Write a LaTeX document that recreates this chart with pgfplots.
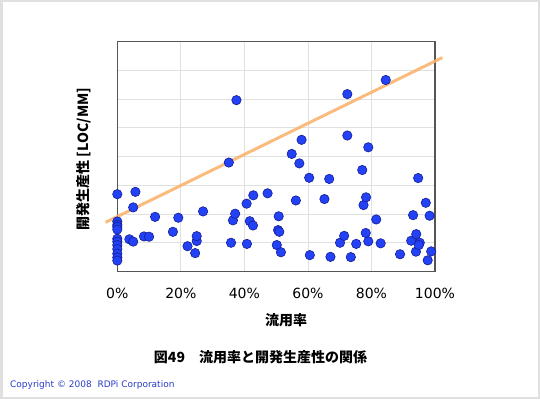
\documentclass[border=0pt]{standalone}
\usepackage{pgfplots}
\pgfplotsset{compat=1.18}
\usepackage{fontspec}
\setmainfont{DejaVu Sans}
\newfontfamily\jp{Noto Sans CJK JP}
\definecolor{ptfill}{RGB}{35,65,245}
\definecolor{ptdraw}{RGB}{20,30,150}
\definecolor{trend}{RGB}{250,180,112}
\definecolor{gridc}{RGB}{224,224,224}
\definecolor{frame}{RGB}{85,85,85}
\definecolor{copy}{RGB}{40,60,200}
\begin{document}
\begin{tikzpicture}[x=1pt,y=1pt]
\useasboundingbox (0,0) rectangle (540,399);
\draw[black!12, line width=2.5pt] (1.25,1.25) rectangle (538.75,397.75);
\begin{axis}[
  at={(117.3pt,127.5pt)}, anchor=south west,
  scale only axis, width=317.7pt, height=230pt,
  xmin=0, xmax=100, ymin=0, ymax=8,
  xtick={0,20,40,60,80,100},
  xticklabels={0\%,20\%,40\%,60\%,80\%,100\%},
  ytick={0,1,...,8}, yticklabels={},
  major tick length=0pt,
  grid=major,
  major grid style={gridc, line width=0.8pt},
  axis line style={frame, line width=1.3pt},
  clip=false,
  xticklabel style={font=\fontsize{14}{16}\selectfont, anchor=center, yshift=-22pt},
  xlabel={\jp\bfseries 流用率},
  xlabel style={at={(axis description cs:0.531,0)}, anchor=center, yshift=-48.5pt, font=\fontsize{14}{16}\selectfont},
  ylabel={\jp\bfseries 開発生産性 [LOC/MM]},
  ylabel style={at={(axis description cs:-0.107,0.489)}, anchor=center, font=\fontsize{14}{16}\selectfont},
]
\addplot[trend, line width=3pt, opacity=0.9] coordinates {(-3.7,1.71) (102.3,7.44)};
\addplot[only marks, mark=*, mark size=4.7pt, mark options={fill=ptfill, draw=ptdraw, line width=0.6pt}] table {
x y
0 2.69
0 1.74
0 1.62
0 1.55
0 1.46
0 1.14
0 1.04
0 0.92
0 0.78
0 0.62
0 0.49
0 0.38
5.7 2.77
5.0 2.23
3.8 1.12
5.0 1.04
8.4 1.22
10.0 1.21
11.9 1.90
17.5 1.38
19.2 1.87
22.1 0.88
24.5 0.64
25.0 1.06
25.0 1.23
27.0 2.09
35.1 3.79
37.5 5.96
35.8 1.00
36.4 1.78
37.1 2.01
40.7 2.36
40.8 0.96
41.7 1.75
42.7 1.60
42.8 2.65
47.3 2.72
50.2 0.92
50.6 1.44
51.0 1.38
50.8 1.92
51.5 0.67
54.9 4.09
57.3 3.76
58.0 4.58
56.2 2.47
60.4 3.26
60.6 0.57
65.2 2.52
66.7 3.22
67.1 0.51
70.1 1.00
71.4 1.24
72.4 6.17
72.4 4.73
73.5 0.50
75.2 0.96
77.1 3.53
77.5 2.31
78.3 2.58
79.0 4.32
78.2 1.34
79.0 1.05
81.5 1.81
82.9 0.98
84.5 6.66
89.0 0.60
92.5 1.07
93.1 1.96
94.1 1.30
94.7 3.25
94.0 0.69
95.2 1.00
94.9 0.92
97.1 2.39
98.3 1.94
97.7 0.39
98.8 0.70
};
\end{axis}
\node[anchor=center, font=\fontsize{14}{16}\selectfont\jp\bfseries] at (260.5,42) {図49　流用率と開発生産性の関係};
\node[anchor=west, inner sep=0pt, text=copy, font=\fontsize{9}{11}\selectfont] at (10,14) {Copyright © 2008\ \ RDPi Corporation};
\end{tikzpicture}
\end{document}
